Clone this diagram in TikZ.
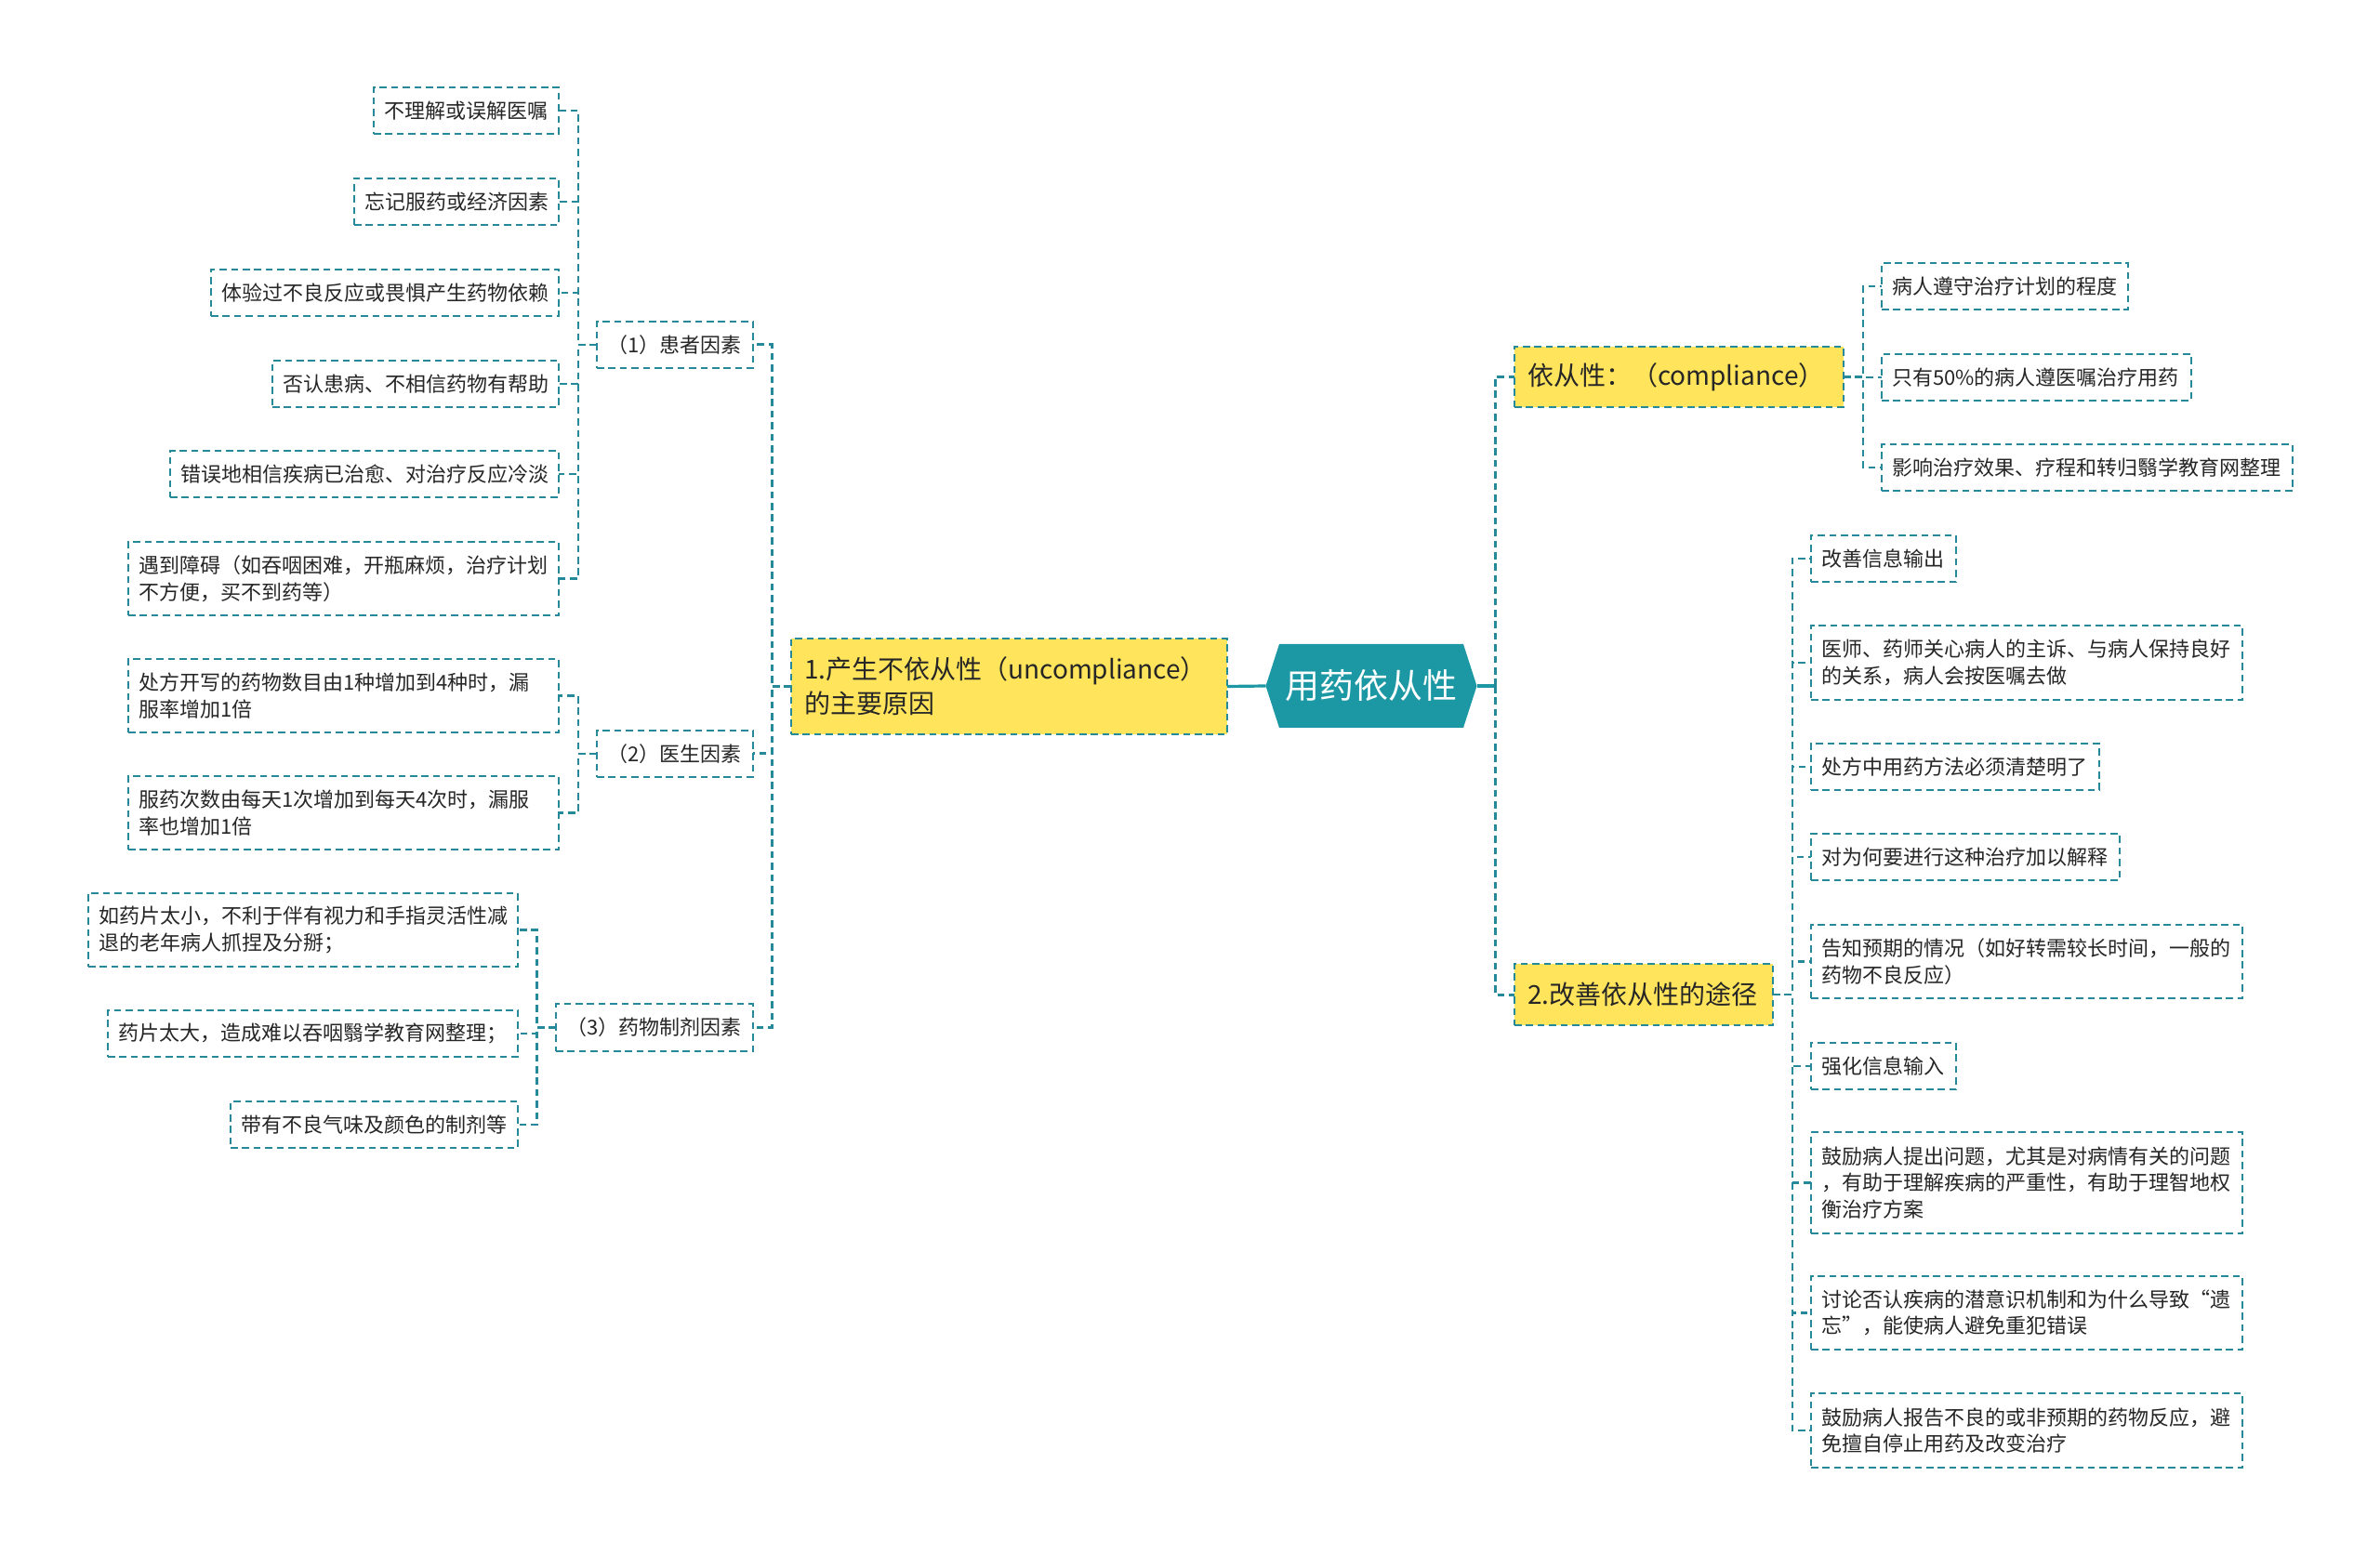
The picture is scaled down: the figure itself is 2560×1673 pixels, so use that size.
\documentclass[tikz,border=0pt]{standalone}
\usepackage{fontspec}
\setmainfont{Noto Sans CJK SC}
\definecolor{linecol}{HTML}{26899A}
\definecolor{rootcol}{HTML}{1B98A3}
\definecolor{yel}{HTML}{FFE45C}
\definecolor{txt}{HTML}{262626}
\tikzset{
  leafbox/.style={draw=linecol, line width=1.2pt, dash pattern=on 3.8pt off 2.4pt, fill=white, align=left, inner ysep=0pt, outer sep=0pt, text=txt, font=\fontsize{11}{14.3}\selectfont},
  mainbox/.style={leafbox, fill=yel, font=\fontsize{14}{18.5}\selectfont},
  rootnode/.style={minimum width=113.5pt, minimum height=45pt, inner sep=0pt, outer sep=0pt, text=white, font=\fontsize{18.5}{22}\selectfont},
  conn/.style={draw=linecol, line width=1.2pt, dash pattern=on 3.8pt off 2.4pt},
  mainconn/.style={conn, line width=1.5pt},
  solidconn/.style={draw=rootcol, line width=1.6pt},
}
% #1 style, #2 name, #3 pad (pt), #4 x1, #5 y1, #6 x2, #7 y2 (pixels), #8 text
\newcommand\mybox[8]{%
  \pgfmathsetmacro\myw{(#6-#4)/2-2*#3}%
  \pgfmathsetmacro\myh{(#7-#5)/2}%
  \node[#1, inner xsep=#3pt, text width=\myw pt, minimum height=\myh pt] (#2) at ({(#4+#6)/2},{(#5+#7)/2}) {#8};%
}
\begin{document}
\begin{tikzpicture}[x=0.5pt, y=-0.5pt]
\useasboundingbox[fill=white] (0,0) rectangle (2560,1673);

% root
\fill[rootcol] (1361.5,738) -- (1376,693) -- (1574,693) -- (1588.5,738) -- (1574,783) -- (1376,783) -- cycle;
\node[rootnode] (root) at (1475,738) {用药依从性};

% level 1
\mybox{mainbox}{m1}{7}{851}{687}{1320}{790}{1.产生不依从性（uncompliance）\\的主要原因}
\mybox{mainbox}{r1}{7}{1629}{373}{1983}{438}{依从性：（compliance）}
\mybox{mainbox}{r2}{7}{1629}{1037}{1907}{1103}{2.改善依从性的途径}

% level 2 left
\mybox{leafbox}{p1}{5.5}{642}{346}{810}{396}{（1）患者因素}
\mybox{leafbox}{p2}{5.5}{642}{786}{810}{836}{（2）医生因素}
\mybox{leafbox}{p3}{5.5}{598}{1080}{810}{1131}{（3）药物制剂因素}

% leaves (1)
\mybox{leafbox}{a1}{5.5}{402}{94}{601}{144}{不理解或误解医嘱}
\mybox{leafbox}{a2}{5.5}{381}{192}{601}{242}{忘记服药或经济因素}
\mybox{leafbox}{a3}{5.5}{227}{290}{601}{340}{体验过不良反应或畏惧产生药物依赖}
\mybox{leafbox}{a4}{5.5}{293}{388}{601}{438}{否认患病、不相信药物有帮助}
\mybox{leafbox}{a5}{5.5}{183}{485}{601}{535}{错误地相信疾病已治愈、对治疗反应冷淡}
\mybox{leafbox}{a6}{5.5}{138}{583}{601}{662}{遇到障碍（如吞咽困难，开瓶麻烦，治疗计划\\不方便，买不到药等）}
% leaves (2)
\mybox{leafbox}{b1}{5.5}{138}{709}{601}{788}{处方开写的药物数目由1种增加到4种时，漏\\服率增加1倍}
\mybox{leafbox}{b2}{5.5}{138}{835}{601}{914}{服药次数由每天1次增加到每天4次时，漏服\\率也增加1倍}
% leaves (3)
\mybox{leafbox}{c1}{5.5}{95}{961}{557}{1040}{如药片太小，不利于伴有视力和手指灵活性减\\退的老年病人抓捏及分掰；}
\mybox{leafbox}{c2}{5.5}{116}{1087}{557}{1137}{药片太大，造成难以吞咽翳学教育网整理；}
\mybox{leafbox}{c3}{5.5}{248}{1185}{557}{1235}{带有不良气味及颜色的制剂等}

% leaves right 1
\mybox{leafbox}{d1}{5.5}{2024}{283}{2289}{333}{病人遵守治疗计划的程度}
\mybox{leafbox}{d2}{5.5}{2024}{381}{2357}{431}{只有50\%的病人遵医嘱治疗用药}
\mybox{leafbox}{d3}{5.5}{2024}{478}{2466}{528}{影响治疗效果、疗程和转归翳学教育网整理}
% leaves right 2
\mybox{leafbox}{e1}{5.5}{1948}{576}{2104}{626}{改善信息输出}
\mybox{leafbox}{e2}{5.5}{1948}{673}{2412}{753}{医师、药师关心病人的主诉、与病人保持良好\\的关系，病人会按医嘱去做}
\mybox{leafbox}{e3}{5.5}{1948}{800}{2258}{850}{处方中用药方法必须清楚明了}
\mybox{leafbox}{e4}{5.5}{1948}{897}{2280}{947}{对为何要进行这种治疗加以解释}
\mybox{leafbox}{e5}{5.5}{1948}{995}{2412}{1074}{告知预期的情况（如好转需较长时间，一般的\\药物不良反应）}
\mybox{leafbox}{e6}{5.5}{1948}{1122}{2104}{1172}{强化信息输入}
\mybox{leafbox}{e7}{5.5}{1948}{1218}{2412}{1327}{鼓励病人提出问题，尤其是对病情有关的问题\\，有助于理解疾病的严重性，有助于理智地权\\衡治疗方案}
\mybox{leafbox}{e8}{5.5}{1948}{1373}{2412}{1452}{讨论否认疾病的潜意识机制和为什么导致“遗\\忘”，能使病人避免重犯错误}
\mybox{leafbox}{e9}{5.5}{1948}{1499}{2412}{1579}{鼓励病人报告不良的或非预期的药物反应，避\\免擅自停止用药及改变治疗}

% connectors root
\draw[solidconn] (root.west) -- (m1.east);
\draw[solidconn] (root.east) -- ++(9.75pt,0) coordinate (rj);
\draw[mainconn] (rj) |- (r1.west);
\draw[mainconn] (rj) |- (r2.west);

% left main -> factors
\foreach \c in {p1,p2,p3} \draw[mainconn] (m1.west) -- ++(-10.5pt,0) |- (\c.east);
% factors -> leaves
\foreach \c in {a1,a2,a3,a4,a5,a6} \draw[conn] (p1.west) -- ++(-10pt,0) |- (\c.east);
\foreach \c in {b1,b2} \draw[conn] (p2.west) -- ++(-10pt,0) |- (\c.east);
\foreach \c in {c1,c2,c3} \draw[conn] (p3.west) -- ++(-10.25pt,0) |- (\c.east);
% right
\foreach \c in {d1,d2,d3} \draw[conn] (r1.east) -- ++(10.5pt,0) |- (\c.west);
\foreach \c in {e1,e2,e3,e4,e5,e6,e7,e8,e9} \draw[conn] (r2.east) -- ++(10.5pt,0) |- (\c.west);
\end{tikzpicture}
\end{document}
